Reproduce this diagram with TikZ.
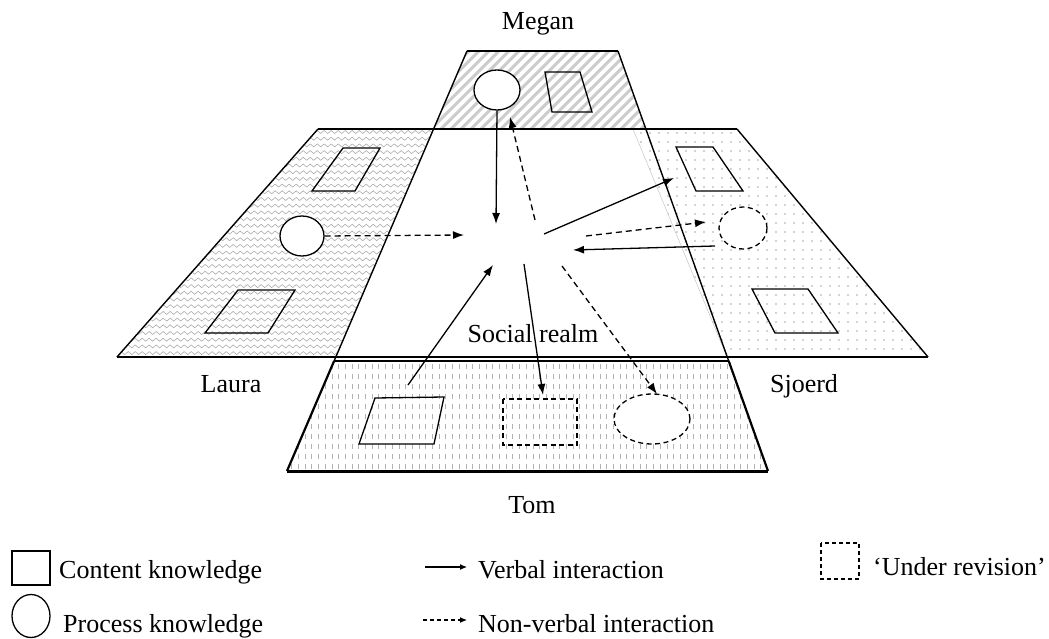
\documentclass[tikz,border=0pt]{standalone}
\usepackage{fontspec}
\setmainfont{Liberation Serif}
\usetikzlibrary{arrows.meta,shapes.geometric,decorations.pathmorphing}

\begin{document}
\begin{tikzpicture}[x=1pt,y=-1pt,
  edge/.style={line width=1.4pt},
  faint/.style={draw=gray!45, line width=0.5pt},
  cbox/.style={line width=1.3pt},
  proc/.style={ellipse, draw, line width=1.3pt, fill=white, inner sep=0pt},
  rev/.style={dash pattern=on 5pt off 3.5pt},
  verbal/.style={line width=1.3pt, -{Latex[length=11pt,width=8pt]}},
  nonverbal/.style={verbal, dash pattern=on 6pt off 4pt},
  keyverbal/.style={line width=1.1pt, -{Latex[length=7pt,width=6pt]}},
  keynonverbal/.style={keyverbal, dash pattern=on 4pt off 3pt},
  lbl/.style={font=\fontsize{26}{30}\selectfont, inner sep=0pt},
]
\useasboundingbox (0,0) rectangle (1049,639);

% ---- outline points of the four realms
\coordinate (MTL) at (467,51);
\coordinate (MTR) at (618,51);
\coordinate (TBL) at (287,471);
\coordinate (TBR) at (768,471);
\coordinate (ML)  at (433.6,129);
\coordinate (MR)  at (645.9,129);
\coordinate (LTL) at (318,129);
\coordinate (STR) at (737,129);
\coordinate (LBL) at (117,357);
\coordinate (SBR) at (928,357);
\coordinate (LBm) at (335.9,357);
\coordinate (RBm) at (726.9,357);
\coordinate (STL) at (633,129);
\coordinate (TTL) at (334.1,361);
\coordinate (TTR) at (728.7,361);

% ---- Megan: diagonal hatching
\begin{scope}
  \clip (MTL) -- (MTR) -- (MR) -- (ML) -- cycle;
  \foreach \c in {320,330,...,680}
    \draw[gray!40, line width=3pt] (\c,140) -- (\c+100,40);
\end{scope}

% ---- Laura: wavy lines
\begin{scope}
  \clip (LTL) -- (ML) -- (LBm) -- (LBL) -- cycle;
  \foreach \r in {0,...,34}
    \draw[gray!70, line width=0.55pt,
          decorate, decoration={snake, segment length=7pt, amplitude=1.5pt}]
      (105,132+6.7*\r) -- (445,132+6.7*\r);
\end{scope}

% ---- Sjoerd: dots
\begin{scope}
  \clip (STL) -- (STR) -- (SBR) -- (RBm) -- cycle;
  \foreach \i in {0,...,34}
    \foreach \j in {0,...,25}
      \fill[gray!70] (632+9*\i,133+9*\j) circle (0.8pt);
\end{scope}

% ---- Tom: short vertical dashes
\begin{scope}
  \clip (TTL) -- (TTR) -- (TBR) -- (TBL) -- cycle;
  \foreach \k in {0,...,73}
    \draw[gray!60, line width=0.8pt, dash pattern=on 5pt off 5pt]
      (285+6.7*\k,364) -- (285+6.7*\k,475);
\end{scope}

% ---- realm outlines
\draw[faint] (STL) -- (RBm);
\draw[edge] (MTL) -- (MTR);
\draw[edge] (LTL) -- (STR);
\draw[edge] (LTL) -- (LBL);
\draw[edge] (STR) -- (SBR);
\draw[edge] (LBL) -- (SBR);
\draw[edge] (MTL) -- (TTL);
\draw[edge] (MTR) -- (TTR);
\draw[edge] (TTL) -- (TTR);
\draw[line width=2.2pt] (TTL) -- (TBL);
\draw[line width=2.2pt] (TTR) -- (TBR);
\draw[line width=3pt] (TBL) -- (TBR);

% ---- Megan's knowledge
\node[proc, minimum width=46pt, minimum height=40pt] (mc) at (497,90) {};
\draw[cbox] (545,72) -- (580,72) -- (592,112) -- (552,112) -- cycle;

% ---- Laura's knowledge
\draw[cbox] (343,148) -- (380,148) -- (355,191) -- (312,191) -- cycle;
\node[proc, minimum width=44pt, minimum height=40pt] (lc) at (302,236) {};
\draw[cbox] (238,290) -- (295,290) -- (268,333) -- (205,333) -- cycle;

% ---- Sjoerd's knowledge
\draw[cbox] (676,147) -- (713,147) -- (743,191) -- (696,191) -- cycle;
\node[proc, rev, minimum width=48pt, minimum height=42pt] (sc) at (743,228) {};
\draw[cbox] (752,289) -- (808,289) -- (838,333) -- (775,333) -- cycle;

% ---- Tom's knowledge
\draw[cbox] (375,398) -- (444,397) -- (434,444) -- (359,444) -- cycle;
\draw[cbox, rev] (503,399) rectangle (577,445);
\node[proc, rev, minimum width=76pt, minimum height=50pt] (te) at (652,419) {};

% ---- interaction end points in the social realm
\coordinate (inM)  at (496,224);
\coordinate (outM) at (535,220);
\coordinate (toM)  at (510,117);
\coordinate (inL)  at (464,235);
\coordinate (outS1) at (544,234);
\coordinate (toS1)  at (674,178);
\coordinate (outS2) at (586,236);
\coordinate (toS2)  at (706,222);
\coordinate (fromS) at (715,246);
\coordinate (inS)   at (573,250);
\coordinate (fromT) at (408,385);
\coordinate (inT)   at (493,265);
\coordinate (outT1) at (524,264);
\coordinate (toT1)  at (543,395);
\coordinate (outT2) at (562,266);
\coordinate (toT2)  at (657,394);

\draw[verbal] (mc.south) -- (inM);
\draw[nonverbal] (outM) -- (toM);
\draw[nonverbal] (lc.east) -- (inL);
\draw[verbal] (outS1) -- (toS1);
\draw[nonverbal] (outS2) -- (toS2);
\draw[verbal] (fromS) -- (inS);
\draw[verbal] (fromT) -- (inT);
\draw[verbal] (outT1) -- (toT1);
\draw[nonverbal] (outT2) -- (toT2);

% ---- labels
\node[lbl, anchor=base] (megan) at (538,30) {Megan};
\node[lbl, anchor=base] (social) at (533,342) {Social realm};
\node[lbl, anchor=base] (laura) at (231,392) {Laura};
\node[lbl, anchor=base] (sjoerd) at (804,392) {Sjoerd};
\node[lbl, anchor=base] (tom) at (532,513) {Tom};

% ---- key
\draw[cbox] (12,551) rectangle (50,585);
\node[lbl, anchor=base west] (kc) at (59,578) {Content knowledge};
\node[proc, minimum width=38pt, minimum height=43pt] (kp) at (31,616) {};
\node[lbl, anchor=base west] (kpt) at (63,632) {Process knowledge};
\coordinate (kv1) at (425,567);
\coordinate (kv2) at (467,567);
\draw[keyverbal] (kv1) -- (kv2);
\node[lbl, anchor=base west] (kvt) at (478,578) {Verbal interaction};
\coordinate (kn1) at (423,620);
\coordinate (kn2) at (467,620);
\draw[keynonverbal] (kn1) -- (kn2);
\node[lbl, anchor=base west] (knt) at (478,632) {Non-verbal interaction};
\draw[line width=1.1pt, dash pattern=on 4pt off 3pt] (821,543) rectangle (859,579);
\node[lbl, anchor=base west] (kr) at (873,575) {‘Under revision’};
\end{tikzpicture}
\end{document}
